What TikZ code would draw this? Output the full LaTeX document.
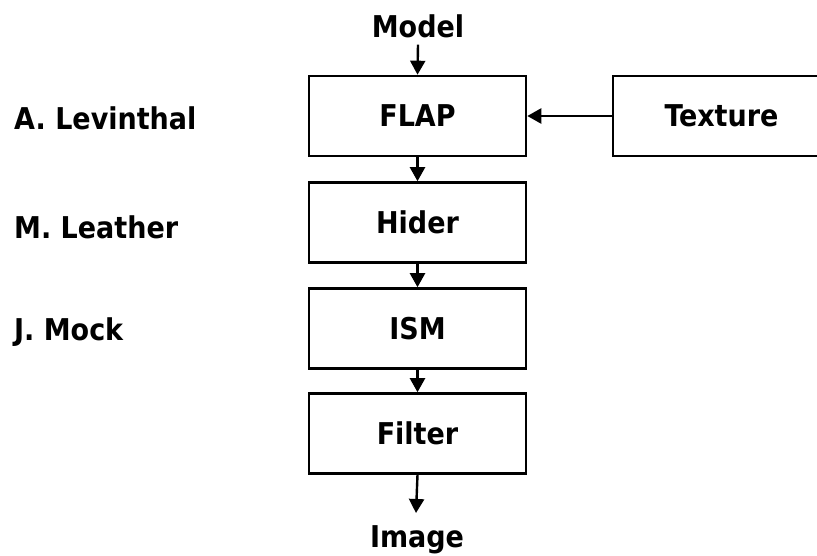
\documentclass[tikz,border=0pt]{standalone}
\usepackage{fontspec}
\setmainfont{DejaVu Sans Condensed}
\usetikzlibrary{arrows.meta}
\tikzset{
  blk/.style={draw, line width=2.6pt, minimum width=217pt, minimum height=80pt, inner sep=0pt},
  lbl/.style={anchor=base west, inner sep=0pt},
  conn/.style={line width=2.4pt, -{Triangle[length=14pt,width=15pt]}},
}
\begin{document}
\begin{tikzpicture}[x=1pt,y=-1pt,font=\fontsize{30}{36}\selectfont\bfseries]
\useasboundingbox (0,0) rectangle (817,556);
\node[blk] (flap) at (417.5,116) {FLAP};
\node[blk] (hider) at (417.5,222.5) {Hider};
\node[blk] (ism) at (417.5,328.5) {ISM};
\node[blk] (filter) at (417.5,433.5) {Filter};
\node[blk] (texture) at (721.5,116) {Texture};
\node[anchor=base, inner sep=0pt] (model) at (418,38) {Model};
\node[anchor=base, inner sep=0pt] (image) at (417,547) {Image};
\coordinate (modelend) at ([yshift=-6pt]model.south);
\coordinate (imageend) at (416,513);
\node[lbl] (lev) at (14,130) {A. Levinthal};
\node[lbl] (lea) at (14,239) {M. Leather};
\node[lbl] (mock) at (14,340) {J. Mock};
\draw[conn] (modelend) -- (flap.north);
\draw[conn] (flap) -- (hider);
\draw[conn] (hider) -- (ism);
\draw[conn] (ism) -- (filter);
\draw[conn] (filter.south) -- (imageend);
\draw[conn] (texture) -- (flap);
\end{tikzpicture}
\end{document}
